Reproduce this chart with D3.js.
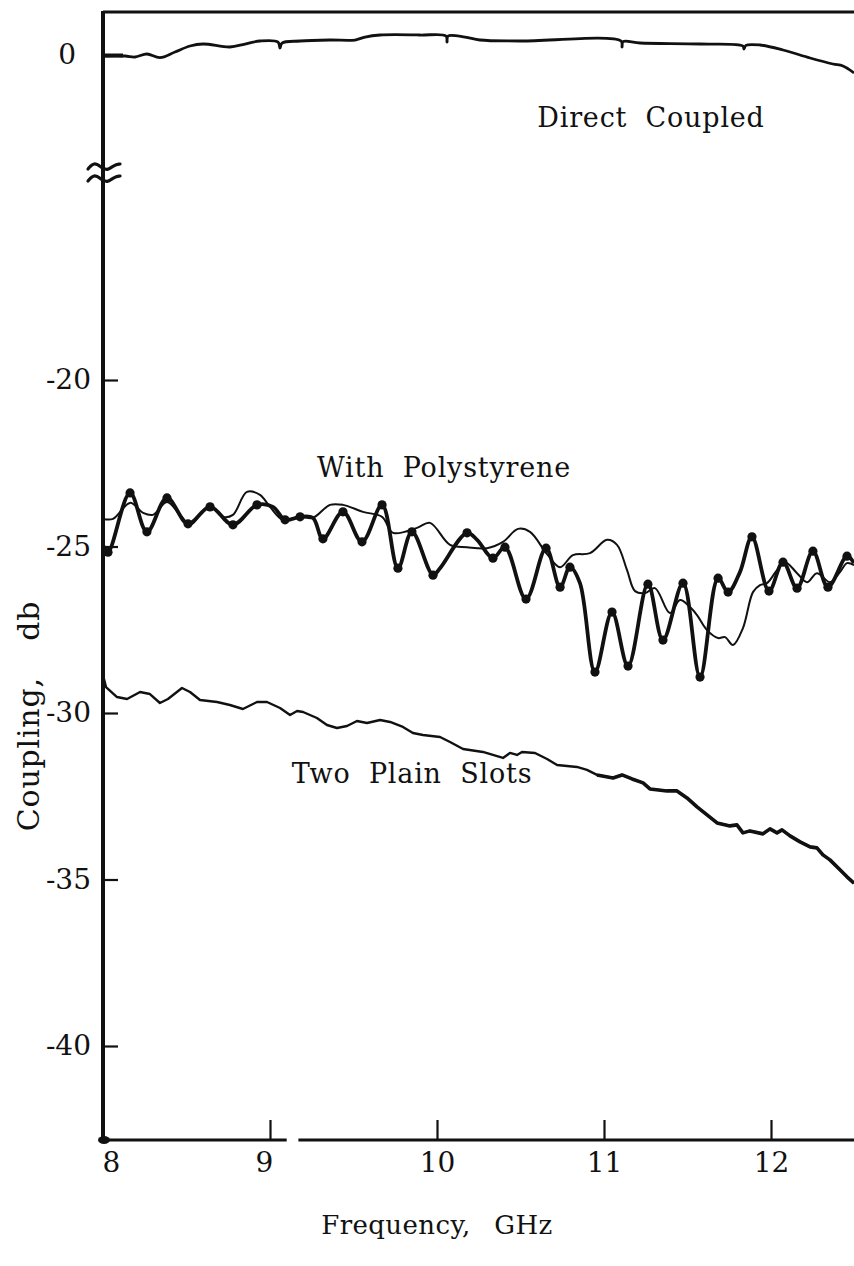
<!DOCTYPE html>
<html>
<head>
<meta charset="utf-8">
<script src="https://cdn.jsdelivr.net/npm/d3@7"></script>
<style>
  html, body { margin: 0; padding: 0; background: #fff; }
  svg { display: block; }
  text { font-family: "DejaVu Serif", "Liberation Serif", serif; fill: #111; }
</style>
</head>
<body>
<svg id="chart" width="854" height="1266"></svg>
<script>
// Coupling versus frequency for three slot configurations.

// Frequency axis ticks (GHz) and coupling axis ticks (dB)
const freqTicks = [8, 9, 10, 11, 12];
const upperTicks = [0];
const lowerTicks = [-20, -25, -30, -35, -40];

// Direct coupled reference trace
const directFreq = [8.000, 8.132, 8.192, 8.263, 8.341, 8.431, 8.521, 8.599, 8.760, 8.850, 8.940, 9.048, 9.060, 9.072, 9.180, 9.359, 9.509, 9.569, 9.659, 9.898, 10.054, 10.060, 10.066, 10.168, 10.257, 10.497, 11.102, 11.108, 11.114, 11.216, 11.575, 11.832, 11.838, 11.850, 11.934, 12.072, 12.234, 12.371, 12.431, 12.497];
const directDb = [-0.03, -0.03, -0.06, 0.03, -0.08, 0.09, 0.27, 0.33, 0.24, 0.33, 0.42, 0.39, 0.21, 0.36, 0.42, 0.45, 0.45, 0.54, 0.60, 0.60, 0.57, 0.39, 0.57, 0.54, 0.45, 0.42, 0.42, 0.24, 0.40, 0.36, 0.33, 0.27, 0.18, 0.29, 0.30, 0.15, -0.09, -0.27, -0.33, -0.54];

// With polystyrene: heavy trace (marked extrema)
const polyHeavyFreq = [8.000, 8.030, 8.162, 8.263, 8.383, 8.509, 8.641, 8.778, 8.922, 9.018, 9.090, 9.180, 9.257, 9.317, 9.437, 9.551, 9.671, 9.766, 9.850, 9.976, 10.018, 10.180, 10.240, 10.335, 10.407, 10.533, 10.653, 10.737, 10.796, 10.856, 10.946, 11.048, 11.144, 11.263, 11.353, 11.473, 11.575, 11.683, 11.743, 11.814, 11.886, 11.988, 12.072, 12.156, 12.251, 12.341, 12.455, 12.497];
const polyHeavyDb = [-24.95, -25.17, -23.39, -24.56, -23.54, -24.32, -23.81, -24.35, -23.75, -23.81, -24.20, -24.11, -24.14, -24.77, -23.96, -24.86, -23.75, -25.65, -24.56, -25.86, -25.65, -24.59, -24.80, -25.35, -25.02, -26.58, -25.05, -26.22, -25.62, -26.10, -28.77, -26.97, -28.59, -26.13, -27.81, -26.10, -28.92, -25.95, -26.37, -25.77, -24.71, -26.34, -25.47, -26.25, -25.14, -26.22, -25.29, -25.50];

// With polystyrene: light trace
const polyLightFreq = [8.000, 8.060, 8.162, 8.240, 8.299, 8.383, 8.461, 8.521, 8.581, 8.641, 8.719, 8.778, 8.862, 8.940, 9.000, 9.078, 9.180, 9.257, 9.359, 9.437, 9.557, 9.671, 9.737, 9.880, 9.958, 10.078, 10.180, 10.299, 10.395, 10.485, 10.557, 10.659, 10.737, 10.814, 10.916, 11.018, 11.078, 11.138, 11.186, 11.246, 11.305, 11.395, 11.455, 11.515, 11.557, 11.617, 11.683, 11.725, 11.772, 11.832, 11.892, 11.934, 11.976, 12.036, 12.084, 12.156, 12.216, 12.275, 12.353, 12.413, 12.455, 12.497];
const polyLightDb = [-24.17, -24.17, -23.69, -23.99, -24.05, -23.66, -24.05, -24.35, -24.05, -23.81, -24.11, -24.05, -23.36, -23.45, -23.81, -24.20, -24.11, -24.14, -23.75, -23.75, -23.96, -24.11, -24.59, -24.44, -24.29, -24.95, -25.02, -25.05, -24.86, -24.47, -24.56, -25.23, -25.62, -25.26, -25.20, -24.80, -24.95, -25.71, -26.34, -26.40, -26.25, -27.00, -26.61, -26.82, -27.06, -27.51, -27.75, -27.72, -27.96, -27.45, -26.37, -26.16, -26.10, -25.71, -25.47, -25.80, -26.07, -25.80, -26.07, -25.77, -25.50, -25.56];

// Two plain slots
const slotsFreq = [8.000, 8.018, 8.084, 8.144, 8.222, 8.281, 8.341, 8.389, 8.473, 8.521, 8.581, 8.683, 8.760, 8.838, 8.922, 8.982, 9.060, 9.120, 9.162, 9.198, 9.281, 9.341, 9.401, 9.461, 9.521, 9.581, 9.659, 9.719, 9.796, 9.856, 9.916, 10.018, 10.078, 10.156, 10.275, 10.335, 10.395, 10.437, 10.479, 10.509, 10.587, 10.659, 10.719, 10.838, 10.898, 10.958, 11.054, 11.108, 11.168, 11.234, 11.275, 11.377, 11.437, 11.497, 11.557, 11.617, 11.677, 11.754, 11.796, 11.832, 11.874, 11.952, 11.994, 12.036, 12.066, 12.114, 12.174, 12.234, 12.275, 12.311, 12.353, 12.413, 12.455, 12.497];
const slotsDb = [-28.86, -29.22, -29.52, -29.58, -29.37, -29.43, -29.70, -29.58, -29.25, -29.37, -29.61, -29.67, -29.76, -29.88, -29.67, -29.67, -29.85, -30.06, -29.94, -29.97, -30.15, -30.36, -30.45, -30.39, -30.24, -30.30, -30.21, -30.27, -30.42, -30.60, -30.66, -30.72, -30.87, -31.08, -31.17, -31.26, -31.35, -31.20, -31.26, -31.17, -31.20, -31.38, -31.56, -31.62, -31.71, -31.86, -31.95, -31.86, -31.98, -32.10, -32.28, -32.34, -32.34, -32.55, -32.82, -33.06, -33.30, -33.39, -33.36, -33.60, -33.54, -33.63, -33.48, -33.60, -33.51, -33.69, -33.87, -34.02, -34.05, -34.26, -34.41, -34.71, -34.92, -35.11];

const svg = d3.select("#chart");
const W = 854, H = 1266;
svg.append("rect").attr("width", W).attr("height", H).attr("fill", "#fff");

const plotLeft = 103, plotRight = 854, plotTop = 12, plotBottom = 1140;

const x = d3.scaleLinear().domain([8, 12.5]).range([plotLeft, plotLeft + 4.5 * 167]);
// Broken coupling axis: a short band around 0 dB, then -20 dB downward
const yTop = d3.scaleLinear().domain([0, -1]).range([55, 88.3]);
const yLow = d3.scaleLinear().domain([-20, -40]).range([380, 1046]);
const y = v => (v > -10 ? yTop(v) : yLow(v));

const ink = "#111";

// Plot clipping
svg.append("clipPath").attr("id", "plot")
  .append("rect").attr("x", plotLeft).attr("y", plotTop).attr("width", plotRight - plotLeft).attr("height", plotBottom - plotTop);

// Frame: top edge, left axis, bottom axis with a small break near 9.1 GHz
svg.append("line").attr("x1", plotLeft).attr("x2", plotRight).attr("y1", plotTop).attr("y2", plotTop)
  .attr("stroke", ink).attr("stroke-width", 3);
svg.append("line").attr("x1", plotLeft).attr("x2", plotLeft).attr("y1", plotTop - 1).attr("y2", plotBottom + 2)
  .attr("stroke", ink).attr("stroke-width", 4);
svg.append("line").attr("x1", plotLeft).attr("x2", x(9.1)).attr("y1", plotBottom).attr("y2", plotBottom)
  .attr("stroke", ink).attr("stroke-width", 3);
svg.append("line").attr("x1", x(9.17)).attr("x2", plotRight).attr("y1", plotBottom).attr("y2", plotBottom)
  .attr("stroke", ink).attr("stroke-width", 3);
svg.append("ellipse").attr("cx", plotLeft + 1).attr("cy", plotBottom).attr("rx", 6).attr("ry", 4).attr("fill", ink);

// Frequency axis
const xAxis = d3.axisBottom(x).tickValues(freqTicks).tickFormat(d3.format("d"))
  .tickSizeInner(-20).tickSizeOuter(0).tickPadding(12);
const gx = svg.append("g").attr("transform", `translate(0,${plotBottom})`).call(xAxis);
gx.select(".domain").remove();
gx.selectAll(".tick line").attr("stroke", ink).attr("stroke-width", 2.2)
  .filter(d => d === 8).remove();
gx.selectAll(".tick text").attr("font-size", 28).attr("font-family", "DejaVu Serif").attr("fill", ink)
  .attr("dx", d => (d === 8 ? 8 : d === 9 ? -6 : 0));

// Coupling axis, upper and lower segments
function styleY(g) {
  g.select(".domain").remove();
  g.selectAll(".tick line").attr("stroke", ink).attr("stroke-width", 2.2);
  g.selectAll(".tick text").attr("font-size", 28).attr("font-family", "DejaVu Serif").attr("fill", ink);
}
const gyTop = svg.append("g").attr("transform", `translate(${plotLeft},0)`)
  .call(d3.axisLeft(yTop).tickValues(upperTicks).tickFormat(d3.format("d"))
    .tickSizeInner(-20).tickSizeOuter(0).tickPadding(27));
styleY(gyTop);
gyTop.selectAll(".tick line").attr("stroke-width", 4);
const gyLow = svg.append("g").attr("transform", `translate(${plotLeft},0)`)
  .call(d3.axisLeft(yLow).tickValues(lowerTicks).tickFormat(d => String(d))
    .tickSizeInner(-15).tickSizeOuter(0).tickPadding(12));
styleY(gyLow);

// Axis break mark on the coupling axis
const brk = svg.append("g").attr("fill", "none").attr("stroke", ink).attr("stroke-width", 3.2).attr("stroke-linecap", "round");
[166, 178].forEach(cy => {
  brk.append("path").attr("d", d3.line().curve(d3.curveBasis)([
    [plotLeft - 15, cy + 3], [plotLeft - 9, cy - 4], [plotLeft - 2, cy + 1], [plotLeft + 4, cy + 5], [plotLeft + 11, cy - 1], [plotLeft + 17, cy - 2]
  ]));
});

// Curves
const plot = svg.append("g").attr("clip-path", "url(#plot)");
const pts = (fs, ds) => fs.map((f, i) => [x(f), y(ds[i])]);

const smooth = d3.line().curve(d3.curveCatmullRom.alpha(0.5));
const straight = d3.line();

plot.append("path").attr("d", smooth(pts(directFreq, directDb)))
  .attr("fill", "none").attr("stroke", ink).attr("stroke-width", 2.8).attr("stroke-linejoin", "round");

plot.append("path").attr("d", smooth(pts(polyLightFreq, polyLightDb)))
  .attr("fill", "none").attr("stroke", ink).attr("stroke-width", 2).attr("stroke-linejoin", "round");

const heavy = pts(polyHeavyFreq, polyHeavyDb);
plot.append("path").attr("d", smooth(heavy))
  .attr("fill", "none").attr("stroke", ink).attr("stroke-width", 3.8).attr("stroke-linejoin", "round");

// Dots on the heavy trace at each turning point
const turning = polyHeavyDb.map((v, i) => {
  if (i === 0 || i === polyHeavyDb.length - 1) return false;
  const a = polyHeavyDb[i - 1], b = polyHeavyDb[i + 1];
  return (v > a && v > b) || (v < a && v < b);
});
plot.selectAll("circle.mark").data(heavy.filter((p, i) => turning[i]))
  .join("circle").attr("class", "mark")
  .attr("cx", d => d[0]).attr("cy", d => d[1]).attr("r", 4.6).attr("fill", ink);

const slots = pts(slotsFreq, slotsDb);
plot.append("path").attr("d", straight(slots))
  .attr("fill", "none").attr("stroke", ink).attr("stroke-width", 2.4).attr("stroke-linejoin", "round");
plot.append("path").attr("d", straight(slots.filter((p, i) => slotsFreq[i] >= 10.9)))
  .attr("fill", "none").attr("stroke", ink).attr("stroke-width", 3.6).attr("stroke-linejoin", "round");

// Curve labels
const lab = (t, cx, cy) => svg.append("text").attr("x", cx).attr("y", cy)
  .attr("text-anchor", "middle").attr("font-size", 27)
  .attr("letter-spacing", 0.8).attr("word-spacing", 9).text(t);
lab("Direct Coupled", 651, 127);
lab("With Polystyrene", 444, 477);
lab("Two Plain Slots", 412, 783);

// Axis titles
svg.append("text").attr("x", 437).attr("y", 1234).attr("text-anchor", "middle")
  .attr("font-size", 26).attr("letter-spacing", 0.4).attr("word-spacing", 15).text("Frequency, GHz");
svg.append("text").attr("transform", "translate(39,716) rotate(-90)").attr("text-anchor", "middle")
  .attr("font-size", 30).attr("letter-spacing", 0.8).attr("word-spacing", 26).text("Coupling, db");
</script>
</body>
</html>
